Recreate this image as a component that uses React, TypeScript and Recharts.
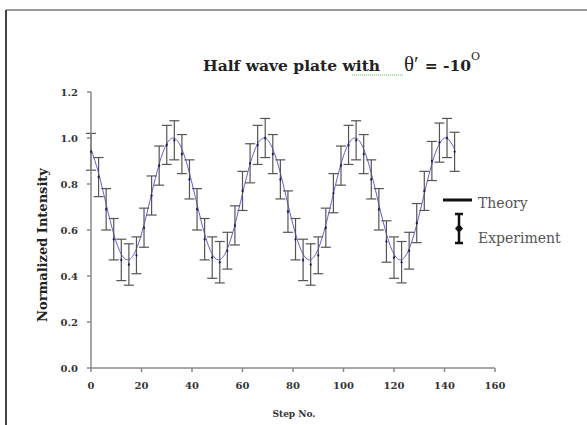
import { ComposedChart, Line, XAxis, YAxis, ErrorBar } from 'recharts';

const steps = [
  0, 3, 6, 9, 12, 15, 18, 21, 24, 27, 30, 33,
  36, 39, 42, 45, 48, 51, 54, 57, 60, 63, 66, 69,
  72, 75, 78, 81, 84, 87, 90, 93, 96, 99, 102, 105,
  108, 111, 114, 117, 120, 123, 126, 129, 132, 135, 138, 141,
  144,
];

const theory = [
  0.952, 0.847, 0.712, 0.583, 0.495, 0.471, 0.518, 0.623, 0.758, 0.887, 0.975, 0.999,
  0.952, 0.847, 0.712, 0.583, 0.495, 0.471, 0.518, 0.623, 0.758, 0.887, 0.975, 0.999,
  0.952, 0.847, 0.712, 0.583, 0.495, 0.471, 0.518, 0.623, 0.758, 0.887, 0.975, 0.999,
  0.952, 0.847, 0.712, 0.583, 0.495, 0.471, 0.518, 0.623, 0.758, 0.887, 0.975, 0.999,
  0.952,
];

const experiment = [
  0.94, 0.83, 0.69, 0.56, 0.47, 0.45, 0.49, 0.61, 0.75, 0.88, 0.97, 0.99,
  0.93, 0.82, 0.69, 0.56, 0.48, 0.46, 0.51, 0.62, 0.77, 0.89, 0.97, 1.0,
  0.93, 0.82, 0.68, 0.56, 0.47, 0.45, 0.49, 0.61, 0.76, 0.88, 0.97, 0.99,
  0.93, 0.82, 0.69, 0.55, 0.48, 0.46, 0.51, 0.63, 0.77, 0.9, 0.98, 1.0,
  0.94,
];

const errors = [
  0.08, 0.085, 0.09, 0.09, 0.09, 0.09, 0.08, 0.085, 0.085, 0.085, 0.085, 0.085,
  0.085, 0.085, 0.09, 0.09, 0.09, 0.09, 0.08, 0.085, 0.085, 0.085, 0.085, 0.085,
  0.085, 0.085, 0.09, 0.09, 0.09, 0.09, 0.08, 0.085, 0.085, 0.085, 0.085, 0.085,
  0.085, 0.085, 0.09, 0.09, 0.09, 0.09, 0.08, 0.085, 0.085, 0.085, 0.085, 0.085,
  0.085,
];

const xTicks = [0, 20, 40, 60, 80, 100, 120, 140, 160];
const yTicks = [0, 0.2, 0.4, 0.6, 0.8, 1.0, 1.2];

const data = steps.map((s, i) => ({
  step: s,
  theory: theory[i],
  exp: experiment[i],
  err: errors[i],
}));

const tickStyle = { fontFamily: 'DejaVu Serif', fontWeight: 'bold', fontSize: 10, fill: '#333' };

// tiny dark marker, mostly hidden under the theory curve
const Marker = (props: any) => {
  const { cx, cy } = props;
  if (cx == null || cy == null) return null;
  return <path d={`M${cx},${cy - 1.8}L${cx + 1.2},${cy}L${cx},${cy + 1.8}L${cx - 1.2},${cy}Z`} fill="#1a1a55" />;
};

export default function App() {
  return (
    <div style={{ position: 'absolute', left: 0, top: 0, width: 587, height: 425, background: '#fff' }}>
      <ComposedChart
        width={587}
        height={425}
        data={data}
        margin={{ top: 92, right: 92, bottom: 27, left: 51 }}
      >
        <XAxis
          dataKey="step"
          type="number"
          domain={[0, 160]}
          ticks={xTicks}
          stroke="#888"
          strokeWidth={1.5}
          tickSize={4}
          tickMargin={10}
          height={30}
          tick={tickStyle}
        />
        <YAxis
          type="number"
          domain={[0, 1.2]}
          ticks={yTicks}
          tickFormatter={(v: number) => v.toFixed(1)}
          stroke="#888"
          strokeWidth={1.5}
          tickSize={4}
          tickMargin={9}
          width={40}
          tick={tickStyle}
        />
        <Line
          type="natural"
          dataKey="theory"
          stroke="#6060d0"
          strokeWidth={1}
          dot={false}
          isAnimationActive={false}
        />
        <Line
          type="linear"
          dataKey="exp"
          stroke="none"
          dot={<Marker />}
          activeDot={false}
          isAnimationActive={false}
        >
          <ErrorBar dataKey="err" width={5} stroke="#555" strokeWidth={1.2} direction="y" />
        </Line>
      </ComposedChart>
      <svg
        width={587}
        height={425}
        style={{ position: 'absolute', left: 0, top: 0, pointerEvents: 'none' }}
      >
        <line x1={6} y1={10} x2={587} y2={10} stroke="#9a9a9a" strokeWidth={2} />
        <line x1={6} y1={10} x2={6} y2={425} stroke="#444" strokeWidth={2} />
        <text x={203} y={71} fontFamily="DejaVu Serif" fontSize={15.5} fill="#222">
          <tspan fontWeight="bold">Half wave plate with</tspan>
          <tspan x={404} fontSize={21} fontFamily="Liberation Serif">θ′</tspan>
          <tspan dx={6} fontWeight="bold">= -10</tspan>
          <tspan fontSize={11} dy={-11}>O</tspan>
        </text>
        <line x1={352} y1={75} x2={403} y2={75} stroke="#5c5" strokeWidth={1} strokeDasharray="1 1" />
        <text
          x={43}
          y={245}
          transform="rotate(-90 43 245)"
          textAnchor="middle"
          dominantBaseline="middle"
          fontFamily="DejaVu Serif"
          fontWeight="bold"
          fontSize={13}
          fill="#222"
        >
          Normalized Intensity
        </text>
        <text x={294} y={417} textAnchor="middle" fontFamily="DejaVu Serif" fontWeight="bold" fontSize={9} fill="#333">
          Step No.
        </text>
        <line x1={443} y1={200} x2={472} y2={200} stroke="#111" strokeWidth={3} />
        <text x={478} y={208} fontFamily="DejaVu Serif" fontSize={14} fill="#555">Theory</text>
        <line x1={459} y1={214} x2={459} y2={243} stroke="#111" strokeWidth={2.5} />
        <line x1={455} y1={214} x2={463} y2={214} stroke="#111" strokeWidth={2.5} />
        <line x1={455} y1={243} x2={463} y2={243} stroke="#111" strokeWidth={2.5} />
        <path d="M459,224L463,228.5L459,233L455,228.5Z" fill="#111" />
        <text x={478} y={243} fontFamily="DejaVu Serif" fontSize={14} fill="#555">Experiment</text>
      </svg>
    </div>
  );
}
